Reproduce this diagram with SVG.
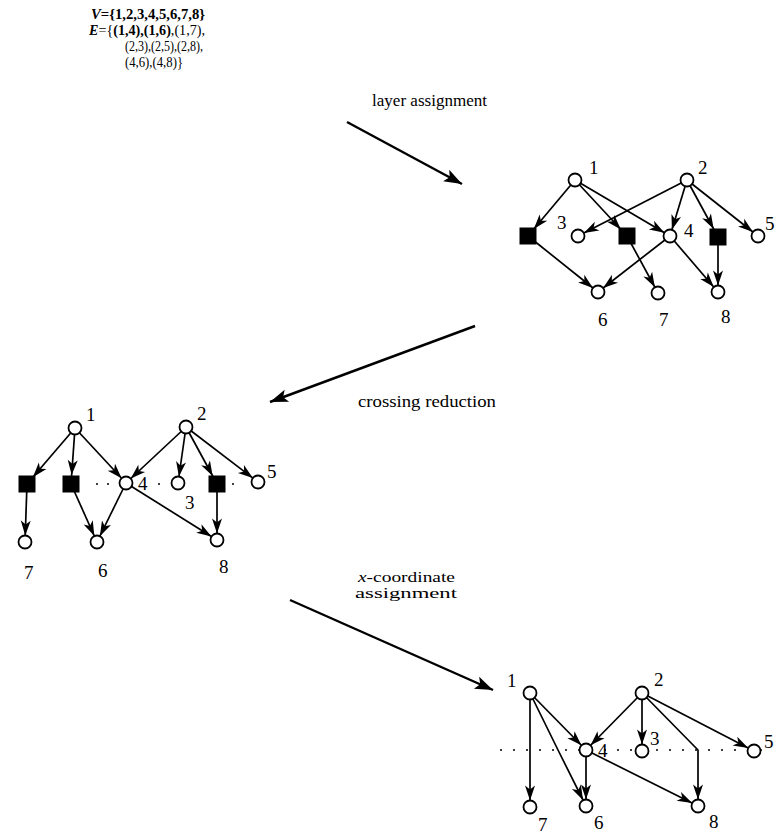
<svg xmlns="http://www.w3.org/2000/svg" width="776" height="836" viewBox="0 0 776 836">
<style>
.e{stroke:#000;stroke-width:1.7;fill:none;marker-end:url(#ah)}
.es{stroke:#000;stroke-width:1.7;fill:none;marker-end:url(#ahs)}
.big{stroke:#000;stroke-width:2.4;fill:none;marker-end:url(#bh)}
.n{fill:#fff;stroke:#000;stroke-width:1.8}
.d{fill:#000}
.t{font-family:"Liberation Serif","DejaVu Serif",serif;font-size:17px;fill:#000}
.t2{font-family:"Liberation Serif","DejaVu Serif",serif;font-size:14.5px;fill:#000}
.def{font-family:"Liberation Serif","DejaVu Serif",serif;font-size:14px;fill:#000}
.lbl{font-family:"Liberation Serif","DejaVu Serif",serif;font-size:19px;fill:#000}
.dot{stroke:#000;stroke-width:1.3;stroke-dasharray:2 11;fill:none}
</style>
<defs>
<marker id="ah" markerUnits="userSpaceOnUse" markerWidth="16" markerHeight="11" refX="21.5" refY="5" orient="auto" overflow="visible"><path d="M0,0 L15,5 L0,10 L4,5 Z" fill="#000"/></marker>
<marker id="ahs" markerUnits="userSpaceOnUse" markerWidth="16" markerHeight="11" refX="24" refY="5" orient="auto" overflow="visible"><path d="M0,0 L15,5 L0,10 L4,5 Z" fill="#000"/></marker>
<marker id="bh" markerUnits="userSpaceOnUse" markerWidth="20" markerHeight="13" refX="18" refY="6.5" orient="auto" overflow="visible"><path d="M0,0 L18,6.5 L0,13 L4,6.5 Z" fill="#000"/></marker>
</defs>

<g id="definition" class="def">
<text x="91" y="19" textLength="114" lengthAdjust="spacingAndGlyphs" font-weight="bold"><tspan font-style="italic">V</tspan>={1,2,3,4,5,6,7,8}</text>
<text x="89" y="35" textLength="116" lengthAdjust="spacingAndGlyphs"><tspan font-style="italic" font-weight="bold">E</tspan>={<tspan font-weight="bold">(1,4),(1,6)</tspan>,(1,7),</text>
<text x="125" y="51" textLength="78" lengthAdjust="spacingAndGlyphs">(2,3),(2,5),(2,8),</text>
<text x="125" y="67" textLength="58" lengthAdjust="spacingAndGlyphs">(4,6),(4,8)}</text>
</g>

<g id="step-labels">
<text class="t" x="372" y="106" textLength="115" lengthAdjust="spacingAndGlyphs">layer assignment</text>
<text class="t" x="358" y="407" textLength="138" lengthAdjust="spacingAndGlyphs">crossing reduction</text>
<text class="t2" x="358" y="582" textLength="97" lengthAdjust="spacingAndGlyphs"><tspan font-style="italic">x</tspan>-coordinate</text>
<text class="t2" x="355" y="598" textLength="102" lengthAdjust="spacingAndGlyphs">assignment</text>
</g>

<g id="connectors">
<!-- step arrows -->
<line class="big" x1="347" y1="122" x2="462" y2="184"/>
<line class="big" x1="475" y1="326" x2="270" y2="402"/>
<line class="big" x1="290" y1="600" x2="493" y2="690"/>

<!-- graph A: layer assignment -->
<line class="es" x1="575" y1="180" x2="528" y2="236"/>
<line class="es" x1="575" y1="180" x2="627" y2="236"/>
<line class="e" x1="575" y1="180" x2="670" y2="236"/>
<line class="e" x1="687" y1="180" x2="578" y2="236"/>
<line class="e" x1="687" y1="180" x2="670" y2="236"/>
<line class="es" x1="687" y1="180" x2="718" y2="237"/>
<line class="e" x1="687" y1="180" x2="758" y2="236"/>
<line class="e" x1="528" y1="236" x2="598" y2="292"/>
<line class="e" x1="670" y1="236" x2="598" y2="292"/>
<line class="e" x1="627" y1="236" x2="658" y2="293"/>
<line class="e" x1="670" y1="236" x2="718" y2="292"/>
<line class="e" x1="718" y1="237" x2="718" y2="292"/>

<!-- graph B: crossing reduction -->
<circle cx="97" cy="484" r="1" fill="#000"/>
<circle cx="108" cy="484" r="1" fill="#000"/>
<circle cx="159" cy="484" r="1" fill="#000"/>
<circle cx="233" cy="484" r="1" fill="#000"/>
<line class="es" x1="75" y1="428" x2="27" y2="484"/>
<line class="es" x1="75" y1="428" x2="71" y2="484"/>
<line class="e" x1="75" y1="428" x2="126" y2="483"/>
<line class="e" x1="186" y1="427" x2="126" y2="483"/>
<line class="e" x1="186" y1="427" x2="178" y2="483"/>
<line class="es" x1="186" y1="427" x2="217" y2="484"/>
<line class="e" x1="186" y1="427" x2="258" y2="482"/>
<line class="e" x1="27" y1="484" x2="25" y2="542"/>
<line class="e" x1="71" y1="484" x2="97" y2="542"/>
<line class="e" x1="126" y1="483" x2="97" y2="542"/>
<line class="e" x1="126" y1="483" x2="217" y2="540"/>
<line class="e" x1="217" y1="484" x2="217" y2="540"/>

<!-- graph C: x-coordinate assignment -->
<line class="dot" x1="500" y1="750" x2="768" y2="750"/>
<line class="e" x1="530" y1="693" x2="530" y2="807"/>
<polyline class="e" points="530,693 558,750 586,806"/>
<line class="e" x1="530" y1="693" x2="586" y2="750"/>
<line class="e" x1="642" y1="693" x2="586" y2="750"/>
<line class="e" x1="642" y1="693" x2="642" y2="751"/>
<polyline class="e" points="642,693 698,750 698,806"/>
<line class="e" x1="642" y1="693" x2="754" y2="751"/>
<line class="e" x1="586" y1="750" x2="586" y2="806"/>
<line class="e" x1="586" y1="750" x2="698" y2="806"/>
</g>

<!-- graph A nodes -->
<g id="A-n1"><circle class="n" cx="575" cy="180" r="6.5"/><text class="lbl" x="589" y="174">1</text></g>
<g id="A-n2"><circle class="n" cx="687" cy="180" r="6.5"/><text class="lbl" x="698" y="174">2</text></g>
<g id="A-d1"><rect class="d" x="519.5" y="227.5" width="17" height="17"/></g>
<g id="A-n3"><circle class="n" cx="578" cy="236" r="6.5"/><text class="lbl" x="557" y="229">3</text></g>
<g id="A-d2"><rect class="d" x="618.5" y="227.5" width="17" height="17"/></g>
<g id="A-n4"><circle class="n" cx="670" cy="236" r="6.5"/><text class="lbl" x="684" y="237">4</text></g>
<g id="A-d3"><rect class="d" x="709.5" y="228.5" width="17" height="17"/></g>
<g id="A-n5"><circle class="n" cx="758" cy="236" r="6.5"/><text class="lbl" x="765" y="230">5</text></g>
<g id="A-n6"><circle class="n" cx="598" cy="292" r="6.5"/><text class="lbl" x="598" y="326">6</text></g>
<g id="A-n7"><circle class="n" cx="658" cy="293" r="6.5"/><text class="lbl" x="659" y="326">7</text></g>
<g id="A-n8"><circle class="n" cx="718" cy="292" r="6.5"/><text class="lbl" x="721" y="323">8</text></g>

<!-- graph B nodes -->
<g id="B-n1"><circle class="n" cx="75" cy="428" r="6.5"/><text class="lbl" x="86" y="421">1</text></g>
<g id="B-n2"><circle class="n" cx="186" cy="427" r="6.5"/><text class="lbl" x="197" y="420">2</text></g>
<g id="B-d1"><rect class="d" x="18.5" y="475.5" width="17" height="17"/></g>
<g id="B-d2"><rect class="d" x="62.5" y="475.5" width="17" height="17"/></g>
<g id="B-n4"><circle class="n" cx="126" cy="483" r="6.5"/><text class="lbl" x="138" y="490">4</text></g>
<g id="B-n3"><circle class="n" cx="178" cy="483" r="6.5"/><text class="lbl" x="185" y="509">3</text></g>
<g id="B-d3"><rect class="d" x="208.5" y="475.5" width="17" height="17"/></g>
<g id="B-n5"><circle class="n" cx="258" cy="482" r="6.5"/><text class="lbl" x="267" y="478">5</text></g>
<g id="B-n7"><circle class="n" cx="25" cy="542" r="6.5"/><text class="lbl" x="24" y="579">7</text></g>
<g id="B-n6"><circle class="n" cx="97" cy="542" r="6.5"/><text class="lbl" x="98" y="577">6</text></g>
<g id="B-n8"><circle class="n" cx="217" cy="540" r="6.5"/><text class="lbl" x="219" y="573">8</text></g>

<!-- graph C nodes -->
<g id="C-n1"><circle class="n" cx="530" cy="693" r="6.5"/><text class="lbl" x="507" y="687">1</text></g>
<g id="C-n2"><circle class="n" cx="642" cy="693" r="6.5"/><text class="lbl" x="654" y="686">2</text></g>
<g id="C-n4"><circle class="n" cx="586" cy="750" r="6.5"/><text class="lbl" x="598" y="757">4</text></g>
<g id="C-n3"><circle class="n" cx="642" cy="751" r="6.5"/><text class="lbl" x="650" y="745">3</text></g>
<g id="C-n5"><circle class="n" cx="754" cy="751" r="6.5"/><text class="lbl" x="764" y="748">5</text></g>
<g id="C-n7"><circle class="n" cx="530" cy="807" r="6.5"/><text class="lbl" x="538" y="831">7</text></g>
<g id="C-n6"><circle class="n" cx="586" cy="806" r="6.5"/><text class="lbl" x="594" y="829">6</text></g>
<g id="C-n8"><circle class="n" cx="698" cy="806" r="6.5"/><text class="lbl" x="709" y="828">8</text></g>
</svg>
